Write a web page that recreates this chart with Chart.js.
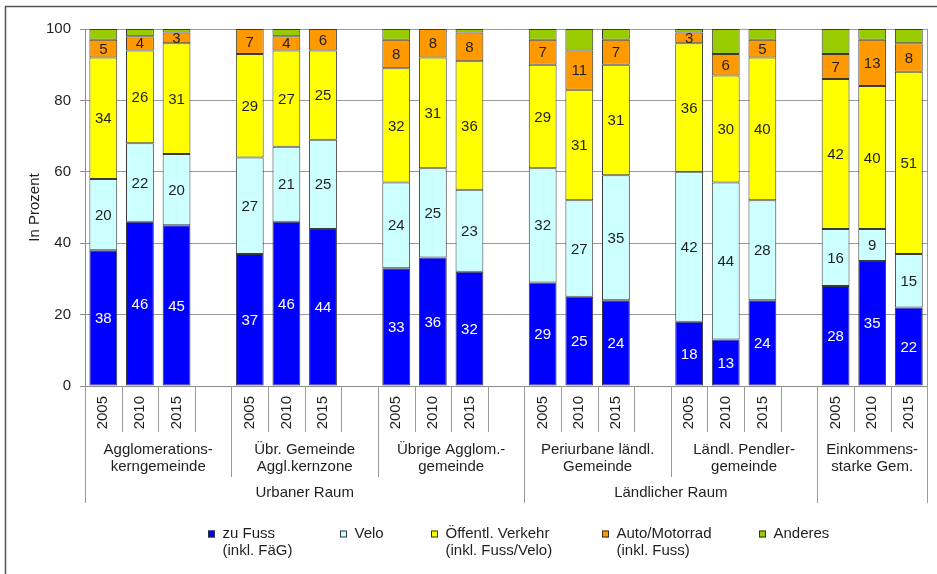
<!DOCTYPE html>
<html>
<head>
<meta charset="utf-8">
<script src="https://cdn.jsdelivr.net/npm/chart.js@4/dist/chart.umd.min.js"></script>
<style>
  html, body { margin: 0; padding: 0; background: #ffffff; }
  #wrap { width: 937px; height: 574px; }
</style>
</head>
<body>
<div id="wrap"><canvas id="c" width="937" height="574"></canvas></div>
<script>
// Survey years shown within every municipality type
const years = ['2005', '2010', '2015'];

// Municipality types (two-line labels)
const groups = [
  ['Agglomerations-', 'kerngemeinde'],
  ['Übr. Gemeinde', 'Aggl.kernzone'],
  ['Übrige Agglom.-', 'gemeinde'],
  ['Periurbane ländl.', 'Gemeinde'],
  ['Ländl. Pendler-', 'gemeinde'],
  ['Einkommens-', 'starke Gem.']
];

// Spatial regions and how many municipality types each one covers
const regionNames = ['Urbaner Raum', 'Ländlicher Raum', ''];
const regionGroupCounts = [3, 2, 1];

// Mode shares in percent (null = spacer column between municipality types)
const zuFuss   = [38, 46, 45, null, 37, 46, 44, null, 33, 36, 32, null, 29, 25, 24, null, 18, 13, 24, null, 28, 35, 22];
const velo     = [20, 22, 20, null, 27, 21, 25, null, 24, 25, 23, null, 32, 27, 35, null, 42, 44, 28, null, 16,  9, 15];
const oev      = [34, 26, 31, null, 29, 27, 25, null, 32, 31, 36, null, 29, 31, 31, null, 36, 30, 40, null, 42, 40, 51];
const auto     = [ 5,  4,  3, null,  7,  4,  6, null,  8,  8,  8, null,  7, 11,  7, null,  3,  6,  5, null,  7, 13,  8];
const anderes  = [ 3,  2,  1, null,  0,  2,  0, null,  3,  0,  1, null,  3,  6,  3, null,  1,  7,  3, null,  7,  3,  4];

// Legend texts (two lines where needed)
const legendNames = [
  ['zu Fuss', '(inkl. FäG)'],
  ['Velo'],
  ['Öffentl. Verkehr', '(inkl. Fuss/Velo)'],
  ['Auto/Motorrad', '(inkl. Fuss)'],
  ['Anderes']
];

// Y axis tick values
const yTicks = [0, 20, 40, 60, 80, 100];

// Category slots: three years per type, blank spacer between types
const slotLabels = [];
groups.forEach((g, gi) => {
  years.forEach(y => slotLabels.push(y));
  if (gi < groups.length - 1) slotLabels.push('');
});

const FONT = '"Liberation Sans", Arial, Helvetica, sans-serif';
const TEXT = '#1f1f1f';
const LINE = '#9a9a9a';

// Value labels centred in every labelled segment
const valueLabels = {
  id: 'valueLabels',
  afterDatasetsDraw(chart) {
    const ctx = chart.ctx;
    ctx.save();
    ctx.font = '15px ' + FONT;
    ctx.textAlign = 'center';
    ctx.textBaseline = 'middle';
    chart.data.datasets.forEach((ds, di) => {
      if (!ds.showValues) return;
      const meta = chart.getDatasetMeta(di);
      meta.data.forEach((el, j) => {
        const v = ds.data[j];
        if (v == null || v === 0) return;
        ctx.fillStyle = ds.valueColor;
        ctx.fillText(String(v), el.x, (el.y + el.base) / 2 + 1);
      });
    });
    ctx.restore();
  }
};

// Multi-level category axis: year cells, type labels, region labels
const axisLevels = {
  id: 'axisLevels',
  afterDraw(chart) {
    const ctx = chart.ctx;
    const xs = chart.scales.x;
    const n = slotLabels.length;
    const slotW = xs.width / n;
    const edge = i => Math.round(xs.left + i * slotW) + 0.5;
    const top = chart.chartArea.bottom;
    const row1 = 432, row2 = 477, row3 = 503;

    ctx.save();
    ctx.strokeStyle = LINE;
    ctx.lineWidth = 1;

    // year cell separators
    for (let i = 0; i <= n; i++) {
      ctx.beginPath(); ctx.moveTo(edge(i), top); ctx.lineTo(edge(i), row1); ctx.stroke();
    }

    // municipality type separators and labels
    ctx.fillStyle = TEXT;
    ctx.font = '15px ' + FONT;
    ctx.textAlign = 'center';
    ctx.textBaseline = 'middle';
    const groupStart = gi => gi * (years.length + 1);
    const groupEnd = gi => Math.min(groupStart(gi) + years.length + 1, n);
    groups.forEach((g, gi) => {
      const s = groupStart(gi), e = groupEnd(gi);
      ctx.beginPath(); ctx.moveTo(edge(s), top); ctx.lineTo(edge(s), row2); ctx.stroke();
      const cx = xs.left + (s + e) / 2 * slotW;
      g.forEach((line, li) => ctx.fillText(line, cx, 450 + li * 17));
    });
    ctx.beginPath(); ctx.moveTo(edge(n), top); ctx.lineTo(edge(n), row2); ctx.stroke();

    // region separators and labels
    let gAcc = 0;
    regionNames.forEach((name, ri) => {
      const s = groupStart(gAcc);
      gAcc += regionGroupCounts[ri];
      const e = groupEnd(gAcc - 1);
      ctx.beginPath(); ctx.moveTo(edge(s), top); ctx.lineTo(edge(s), row3); ctx.stroke();
      if (name) ctx.fillText(name, xs.left + (s + e) / 2 * slotW, 493);
    });
    ctx.beginPath(); ctx.moveTo(edge(n), top); ctx.lineTo(edge(n), row3); ctx.stroke();

    // right border of the plot area
    const ca = chart.chartArea;
    ctx.beginPath(); ctx.moveTo(edge(n), ca.top); ctx.lineTo(edge(n), ca.bottom); ctx.stroke();
    ctx.restore();
  }
};

// Legend row below the axis, plus the outer frame
const legendX = [208, 340, 431, 602, 759];
const bottomLegend = {
  id: 'bottomLegend',
  afterDraw(chart) {
    const ctx = chart.ctx;
    ctx.save();
    ctx.font = '15px ' + FONT;
    ctx.textBaseline = 'middle';
    ctx.textAlign = 'left';
    const y0 = 534, lh = 17, box = 7;
    chart.data.datasets.forEach((ds, i) => {
      const x = legendX[i];
      const lines = legendNames[i];
      ctx.fillStyle = ds.backgroundColor;
      ctx.fillRect(x, y0 - box / 2, box, box);
      ctx.strokeStyle = '#333333';
      ctx.lineWidth = 1;
      ctx.strokeRect(x + 0.5, y0 - box / 2 + 0.5, box - 1, box - 1);
      ctx.fillStyle = TEXT;
      lines.forEach((t, li) => ctx.fillText(t, x + 14.5, y0 + li * lh));
    });

    // frame
    ctx.strokeStyle = '#555555';
    ctx.lineWidth = 1.5;
    ctx.beginPath();
    ctx.moveTo(5.5, chart.height);
    ctx.lineTo(5.5, 6.5);
    ctx.lineTo(chart.width, 6.5);
    ctx.stroke();
    ctx.restore();
  }
};

const mk = (label, data, color, showValues, valueColor) => ({
  label, data,
  backgroundColor: color,
  borderColor: '#3a3a3a',
  borderWidth: 1,
  borderSkipped: false,
  categoryPercentage: 1,
  barPercentage: 0.76,
  showValues, valueColor
});

new Chart(document.getElementById('c'), {
  type: 'bar',
  data: {
    labels: slotLabels,
    datasets: [
      mk(legendNames[0].join(' '), zuFuss,  '#0000ff', true, '#ffffff'),
      mk(legendNames[1].join(' '), velo,    '#ccffff', true, TEXT),
      mk(legendNames[2].join(' '), oev,     '#ffff00', true, TEXT),
      mk(legendNames[3].join(' '), auto,    '#ff9900', true, TEXT),
      mk(legendNames[4].join(' '), anderes, '#99cc00', false, TEXT)
    ]
  },
  options: {
    responsive: false,
    animation: false,
    events: [],
    layout: { padding: { left: 0, right: 8, top: 29, bottom: 0 } },
    plugins: {
      legend: { display: false },
      tooltip: { enabled: false },
      title: { display: false }
    },
    scales: {
      x: {
        stacked: true,
        offset: true,
        grid: { display: false, drawTicks: false },
        border: { display: true, color: '#8a8a8a', width: 1 },
        ticks: {
          autoSkip: false,
          minRotation: 90,
          maxRotation: 90,
          padding: 10,
          color: TEXT,
          font: { family: FONT, size: 15 }
        },
        afterFit(scale) { scale.height = 574 - 386; }
      },
      y: {
        stacked: true,
        min: 0,
        max: 100,
        afterBuildTicks(scale) { scale.ticks = yTicks.map(v => ({ value: v })); },
        grid: { color: LINE, lineWidth: 1, tickLength: 5, tickColor: '#8a8a8a' },
        border: { display: true, color: '#8a8a8a', width: 1 },
        ticks: {
          padding: 9,
          color: TEXT,
          font: { family: FONT, size: 15 }
        },
        title: {
          display: true,
          text: 'In Prozent',
          color: TEXT,
          font: { family: FONT, size: 15 },
          padding: { top: 26, bottom: 0 }
        },
        afterFit(scale) { scale.width = 85; }
      }
    }
  },
  plugins: [valueLabels, axisLevels, bottomLegend]
});
</script>
</body>
</html>
